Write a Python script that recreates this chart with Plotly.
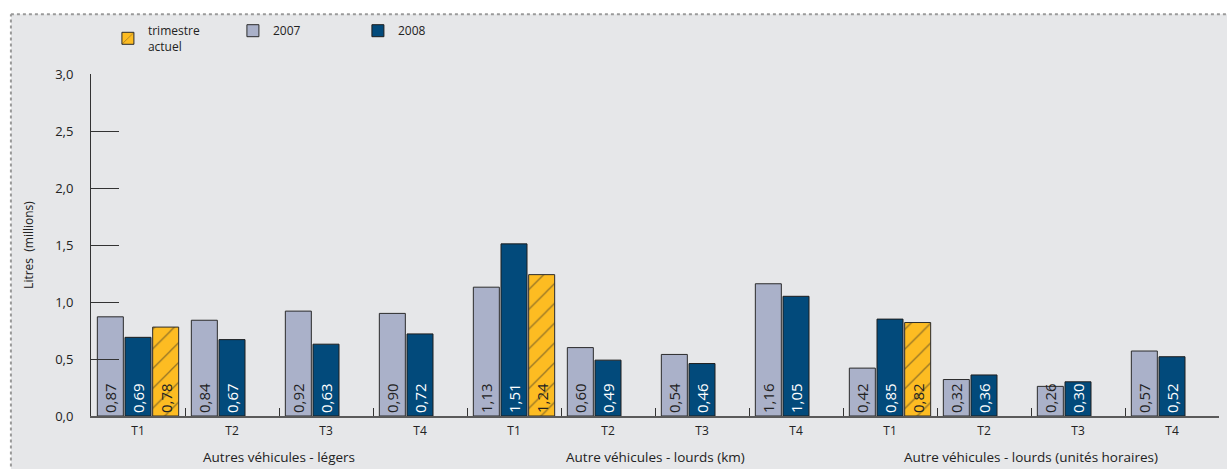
import plotly.graph_objects as go

# quarters and groups
quarters = ["T1", "T2", "T3", "T4"] * 3
groups = ["Autres véhicules - légers", "Autre véhicules - lourds (km)",
          "Autre véhicules - lourds (unités horaires)"]

v2007 = [0.87, 0.84, 0.92, 0.90, 1.13, 0.60, 0.54, 1.16, 0.42, 0.32, 0.26, 0.57]
v2008 = [0.69, 0.67, 0.63, 0.72, 1.51, 0.49, 0.46, 1.05, 0.85, 0.36, 0.30, 0.52]
vcur = [0.78, None, None, None, 1.24, None, None, None, 0.82, None, None, None]

ytickvals = [0, 0.5, 1.0, 1.5, 2.0, 2.5, 3.0]
yticktext = ["0,0", "0,5", "1,0", "1,5", "2,0", "2,5", "3,0"]

xpos = list(range(len(quarters)))


def lab(vals):
    return ["" if v is None else f"{v:.2f}".replace(".", ",") for v in vals]


fnt = "Open Sans"
fig = go.Figure()
fig.add_trace(go.Bar(x=xpos, y=v2007, name="2007", text=lab(v2007), legendrank=2,
                     marker=dict(color="#aab1c9", line=dict(color="#2b2b2b", width=1)),
                     textfont=dict(color="#222222", size=15, family=fnt)))
fig.add_trace(go.Bar(x=xpos, y=v2008, name="2008", text=lab(v2008), legendrank=3,
                     marker=dict(color="#024a7b", line=dict(color="#1e1e1e", width=1)),
                     textfont=dict(color="white", size=15, family=fnt)))
fig.add_trace(go.Bar(x=xpos, y=vcur, name="trimestre<br>actuel", text=lab(vcur), legendrank=1,
                     marker=dict(color="#fdbc22", line=dict(color="#2b2b2b", width=1),
                                 pattern=dict(shape="/", fgcolor="#2a2a2a", bgcolor="#fdbc22",
                                              size=14, solidity=0.09)),
                     textfont=dict(color="#222222", size=15, family=fnt)))
fig.update_traces(textposition="inside", insidetextanchor="start", textangle=-90,
                  constraintext="none", cliponaxis=False)

# main x axis: group boundary ticks; overlay axis x2 carries the quarter labels
fig.update_xaxes(range=[-0.5, 11.5], tickmode="array", tickvals=[i + 0.5 for i in xpos],
                 ticktext=[""] * len(xpos), ticks="inside", ticklen=8, tickcolor="#333333",
                 tickwidth=1, showline=True, linecolor="#5a5a5a", linewidth=2,
                 showgrid=False, zeroline=False, automargin=False)
fig.update_layout(xaxis2=dict(overlaying="x", anchor="y", side="bottom", range=[-0.5, 11.5],
                              tickmode="array", tickvals=xpos, ticktext=quarters, ticks="",
                              showline=False, showgrid=False, zeroline=False, automargin=False,
                              ticklabelstandoff=6,
                              tickfont=dict(size=12, color="#222222", family=fnt)))
fig.add_trace(go.Scatter(x=[], y=[], xaxis="x2", showlegend=False, hoverinfo="skip"))

fig.update_yaxes(range=[0, 3], tickmode="array", tickvals=ytickvals, ticktext=yticktext,
                 ticks="inside", ticklen=28, tickcolor="#333333", tickwidth=1,
                 showline=True, linecolor="#333333", linewidth=1, showgrid=False, zeroline=False,
                 ticklabelstandoff=14, automargin=False,
                 tickfont=dict(size=13, color="#222222", family=fnt),
                 title=dict(text="Litres  (millions)", font=dict(size=12, color="#222222", family=fnt),
                            standoff=18))

for k, g in enumerate(groups):
    fig.add_annotation(x=1.5 + 4 * k, y=-0.12, xref="x", yref="paper", text=g, showarrow=False,
                       font=dict(size=13.5, color="#222222", family=fnt), yanchor="middle")

# page background and dotted border
fig.add_shape(type="rect", xref="paper", yref="paper", x0=-0.071, x1=1.02, y0=-0.2, y1=1.175,
              fillcolor="#e6e7e9", line=dict(width=0), layer="below")
fig.add_shape(type="line", xref="paper", yref="paper", x0=-0.071, x1=1.02, y0=1.175, y1=1.175,
              line=dict(color="#9a9a9a", width=2, dash="dot"))
fig.add_shape(type="line", xref="paper", yref="paper", x0=-0.071, x1=-0.071, y0=-0.2, y1=1.175,
              line=dict(color="#9a9a9a", width=2, dash="dot"))

fig.update_layout(width=1227, height=469, barmode="group", bargap=0.117, bargroupgap=0.06,
                  margin=dict(l=91, r=8, t=74, b=53, autoexpand=False),
                  paper_bgcolor="white", plot_bgcolor="#e6e7e9",
                  font=dict(family=fnt, color="#222222"),
                  legend=dict(orientation="h", x=0.015, y=1.169, xanchor="left", yanchor="top",
                              bgcolor="rgba(0,0,0,0)", entrywidth=80, entrywidthmode="pixels",
                              font=dict(size=12, color="#222222", family=fnt), itemclick=False),
                  showlegend=True)

fig.write_html("out.html", config={"displayModeBar": False},
               post_script="document.body.style.margin='0';document.body.style.overflow='hidden';")
